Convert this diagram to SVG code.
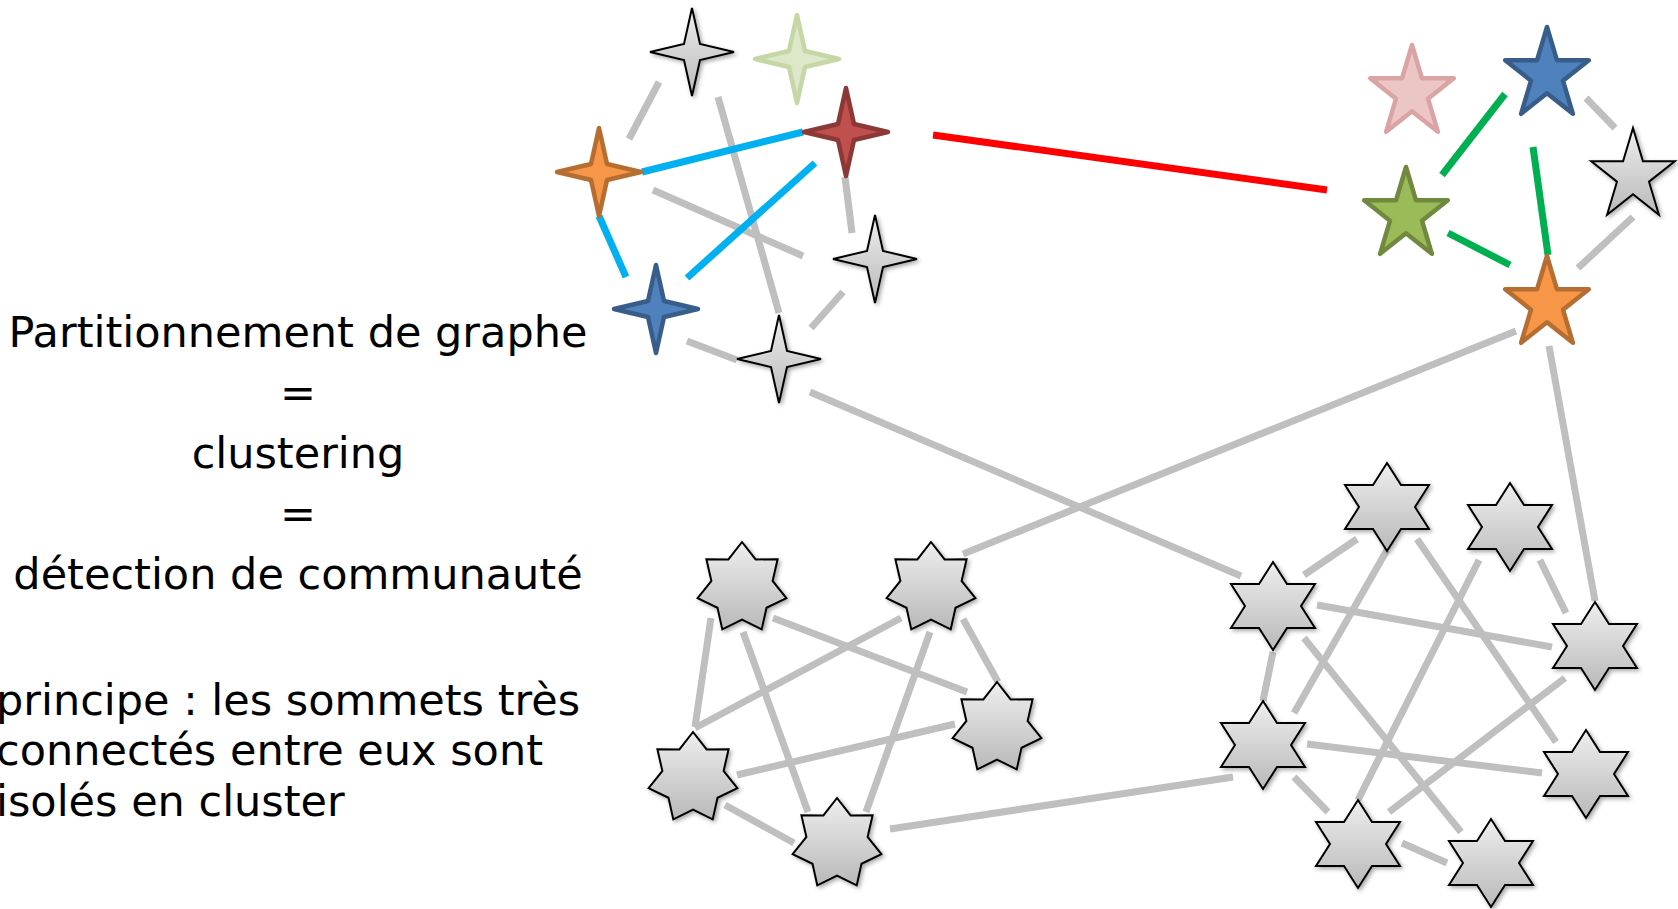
<svg xmlns="http://www.w3.org/2000/svg" width="1678" height="909" viewBox="0 0 1678 909">
  <style>
    .e { stroke: #bfbfbf; stroke-width: 7; stroke-linecap: butt; fill: none; }
    .eb { stroke: #00b0f0; stroke-width: 7; fill: none; }
    .er { stroke: #ff0000; stroke-width: 7; fill: none; }
    .eg { stroke: #00b050; stroke-width: 7; fill: none; }
    .gray { fill: url(#grayGrad); stroke: #000; stroke-width: 2; stroke-linejoin: miter; filter: url(#shadow); }
    .col { stroke-width: 4.5; stroke-linejoin: round; }
    .txt { font-family: "DejaVu Sans", sans-serif; font-size: 43px; fill: #000; }
  </style>
  <defs>
    <linearGradient id="grayGrad" x1="0" y1="0" x2="0" y2="1">
      <stop offset="0" stop-color="#eeeeee"/>
      <stop offset="1" stop-color="#b9b9b9"/>
    </linearGradient>
    <filter id="shadow" x="-20%" y="-20%" width="150%" height="150%">
      <feDropShadow dx="2" dy="2" stdDeviation="2" flood-color="#000" flood-opacity="0.35"/>
    </filter>
    <!-- four-pointed star -->
    <path id="star4" d="M0,-44 L8,-8 L42,0 L8,8 L0,44 L-8,8 L-42,0 L-8,-8 Z"/>
    <!-- five-pointed star -->
    <path id="star5" d="M0,-48 L9.9,-14.8 L41.8,-14.8 L16,5.7 L25.9,38.8 L0,18.3 L-25.9,38.8 L-16,5.7 L-41.8,-14.8 L-9.9,-14.8 Z"/>
    <!-- six-pointed star -->
    <path id="star6" d="M0,-44 L14,-22 L42,-22 L28,0 L42,22 L14,22 L0,44 L-14,22 L-42,22 L-28,0 L-42,-22 L-14,-22 Z"/>
    <!-- seven-pointed star -->
    <path id="star7" d="M0,-46 L13.6,-28.6 L35.6,-28.7 L30.6,-7.1 L44.4,10.2 L24.5,19.8 L19.7,41.4 L0,31.7 L-19.7,41.4 L-24.5,19.8 L-44.4,10.2 L-30.6,-7.1 L-35.6,-28.7 L-13.6,-28.6 Z"/>
  </defs>

  <rect width="1678" height="909" fill="#fff"/>

  <g id="connectors">
    <!-- top-left group -->
    <line class="e" x1="659" y1="82" x2="629" y2="139"/>
    <line class="e" x1="718" y1="97" x2="779" y2="313"/>
    <line class="e" x1="653" y1="190" x2="803" y2="256"/>
    <line class="e" x1="845" y1="177" x2="852" y2="233"/>
    <line class="e" x1="843" y1="292" x2="811" y2="328"/>
    <line class="e" x1="687" y1="341" x2="737" y2="360"/>
    <line class="e" x1="810" y1="392" x2="1241" y2="576"/>
    <line class="eb" x1="642" y1="172" x2="803" y2="132"/>
    <line class="eb" x1="815" y1="163" x2="687" y2="278"/>
    <line class="eb" x1="599" y1="216" x2="626" y2="277"/>
    <line class="er" x1="933" y1="135" x2="1327" y2="190"/>
    <!-- top-right group -->
    <line class="eg" x1="1505" y1="94" x2="1442" y2="175"/>
    <line class="eg" x1="1533" y1="147" x2="1548" y2="255"/>
    <line class="eg" x1="1448" y1="233" x2="1510" y2="265"/>
    <line class="e" x1="1586" y1="98" x2="1615" y2="128"/>
    <line class="e" x1="1633" y1="217" x2="1578" y2="268"/>
    <line class="e" x1="1516" y1="331" x2="963" y2="554"/>
    <line class="e" x1="1549" y1="346" x2="1595" y2="601"/>
    <!-- bottom-left group -->
    <line class="e" x1="711" y1="618" x2="695" y2="727"/>
    <line class="e" x1="743" y1="632" x2="808" y2="812"/>
    <line class="e" x1="773" y1="618" x2="967" y2="692"/>
    <line class="e" x1="901" y1="618" x2="695" y2="728"/>
    <line class="e" x1="963" y1="619" x2="998" y2="682"/>
    <line class="e" x1="930" y1="632" x2="866" y2="812"/>
    <line class="e" x1="737" y1="775" x2="955" y2="724"/>
    <line class="e" x1="725" y1="805" x2="794" y2="843"/>
    <line class="e" x1="890" y1="829" x2="1233" y2="777"/>
    <!-- bottom-right group -->
    <line class="e" x1="1357" y1="539" x2="1304" y2="575"/>
    <line class="e" x1="1387" y1="550" x2="1294" y2="713"/>
    <line class="e" x1="1417" y1="539" x2="1556" y2="742"/>
    <line class="e" x1="1479" y1="560" x2="1358" y2="800"/>
    <line class="e" x1="1540" y1="560" x2="1566" y2="613"/>
    <line class="e" x1="1317" y1="605" x2="1552" y2="647"/>
    <line class="e" x1="1304" y1="638" x2="1461" y2="832"/>
    <line class="e" x1="1273" y1="652" x2="1263" y2="701"/>
    <line class="e" x1="1307" y1="744" x2="1542" y2="773"/>
    <line class="e" x1="1565" y1="678" x2="1389" y2="812"/>
    <line class="e" x1="1294" y1="777" x2="1328" y2="812"/>
    <line class="e" x1="1402" y1="843" x2="1447" y2="863"/>
  </g>

  <!-- four-pointed stars -->
  <g id="n4-top"><use href="#star4" x="692" y="52" class="gray"/></g>
  <g id="n4-pale"><use href="#star4" x="797" y="59" class="col" fill="#dde7c9" stroke="#c6d7a6"/></g>
  <g id="n4-red"><use href="#star4" x="846" y="132" class="col" fill="#c0504d" stroke="#8c3836"/></g>
  <g id="n4-orange"><use href="#star4" x="599" y="172" class="col" fill="#f79646" stroke="#b66d31"/></g>
  <g id="n4-blue"><use href="#star4" x="656" y="309" class="col" fill="#4f81bd" stroke="#385d8a"/></g>
  <g id="n4-right"><use href="#star4" x="875" y="259" class="gray"/></g>
  <g id="n4-bottom"><use href="#star4" x="779" y="359" class="gray"/></g>

  <!-- five-pointed stars -->
  <g id="n5-pink"><use href="#star5" x="1412" y="93" class="col" fill="#ebc6c5" stroke="#d9a4a3"/></g>
  <g id="n5-blue"><use href="#star5" x="1547" y="75" class="col" fill="#4f81bd" stroke="#385d8a"/></g>
  <g id="n5-gray"><use href="#star5" x="1633" y="176" class="gray"/></g>
  <g id="n5-green"><use href="#star5" x="1406" y="215" class="col" fill="#9bbb59" stroke="#71893f"/></g>
  <g id="n5-orange"><use href="#star5" x="1547" y="304" class="col" fill="#f79646" stroke="#b66d31"/></g>

  <!-- seven-pointed stars -->
  <g id="n7-a"><use href="#star7" x="742" y="588" class="gray"/></g>
  <g id="n7-b"><use href="#star7" x="931" y="588" class="gray"/></g>
  <g id="n7-c"><use href="#star7" x="997" y="728" class="gray"/></g>
  <g id="n7-d"><use href="#star7" x="693" y="778" class="gray"/></g>
  <g id="n7-e"><use href="#star7" x="837" y="844" class="gray"/></g>

  <!-- six-pointed stars -->
  <g id="n6-1"><use href="#star6" x="1387" y="507" class="gray"/></g>
  <g id="n6-2"><use href="#star6" x="1510" y="527" class="gray"/></g>
  <g id="n6-3"><use href="#star6" x="1273" y="606" class="gray"/></g>
  <g id="n6-4"><use href="#star6" x="1595" y="646" class="gray"/></g>
  <g id="n6-5"><use href="#star6" x="1263" y="745" class="gray"/></g>
  <g id="n6-6"><use href="#star6" x="1586" y="774" class="gray"/></g>
  <g id="n6-7"><use href="#star6" x="1358" y="844" class="gray"/></g>
  <g id="n6-8"><use href="#star6" x="1491" y="863" class="gray"/></g>

  <g id="title" class="txt" text-anchor="middle">
    <text x="298" y="347">Partitionnement de graphe</text>
    <text x="298" y="407">=</text>
    <text x="298" y="468">clustering</text>
    <text x="298" y="528">=</text>
    <text x="298" y="589">détection de communauté</text>
  </g>
  <g id="principle" class="txt">
    <text x="-4" y="715">principe : les sommets très</text>
    <text x="-4" y="765">connectés entre eux sont</text>
    <text x="-4" y="816">isolés en cluster</text>
  </g>
</svg>
